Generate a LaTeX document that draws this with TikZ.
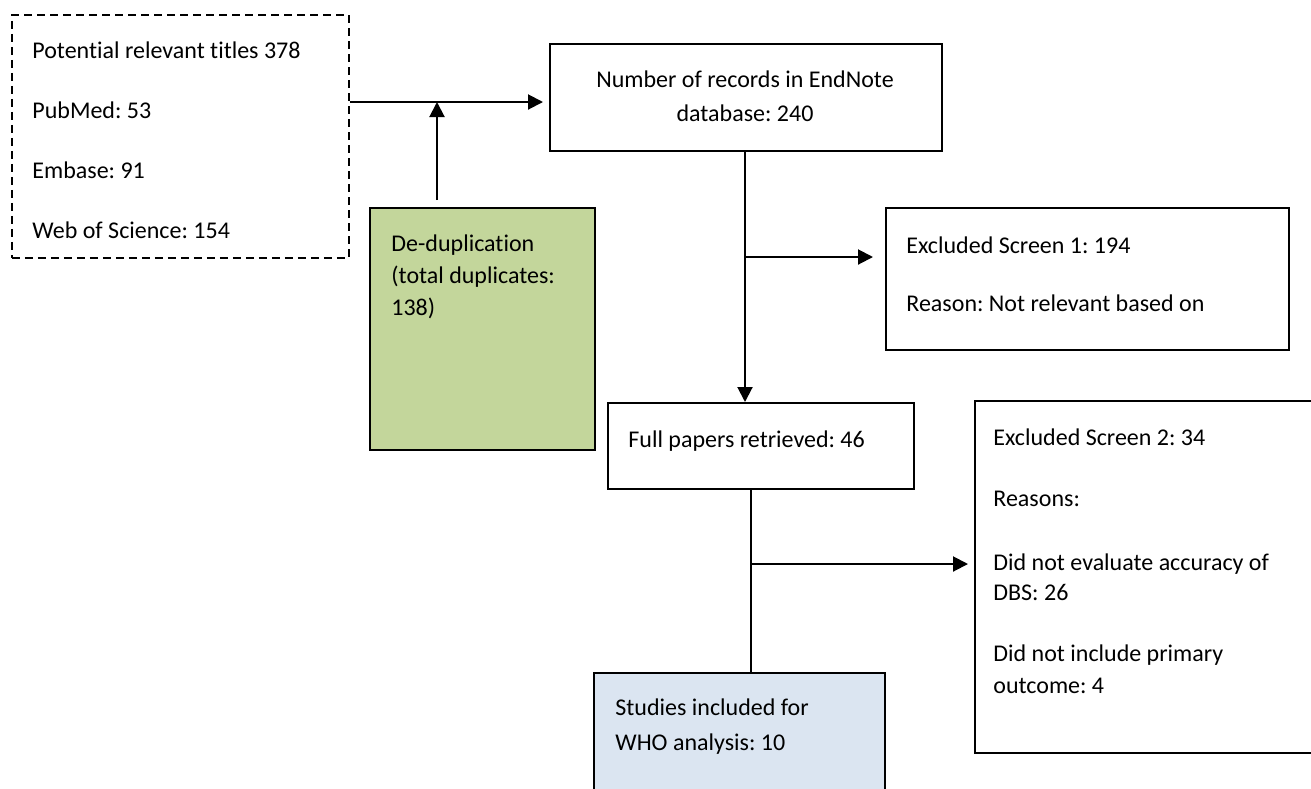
\documentclass[tikz,border=0pt]{standalone}
\usepackage{fontspec}
\setmainfont{Carlito}[Ligatures=NoCommon]
\usetikzlibrary{arrows.meta}
\frenchspacing

\newlength{\px}
\setlength{\px}{0.5pt}
\definecolor{dedupgreen}{HTML}{C3D69B}
\definecolor{keptblue}{HTML}{DBE5F1}

\tikzset{
  box/.style={draw, line width=1pt, rectangle, anchor=north west, inner sep=0pt},
  txt/.style={anchor=north west, align=left, inner sep=0pt,
              font=\fontsize{12}{15}\selectfont, execute at begin node=\strut},
  link/.style={line width=1pt},
  arr/.style={link, -{Triangle[length=7.5pt,width=7.5pt]}}
}

\begin{document}
\begin{tikzpicture}[x=0.5pt,y=-0.5pt]
\useasboundingbox (0,0) rectangle (1311,788);
\clip (0,0) rectangle (1311,788);

% boxes
\node[box, dashed, dash pattern=on 4pt off 2.5pt, line width=0.75pt,
      minimum width=337*\px, minimum height=243*\px] (src) at (11,14) {};
\node[box, minimum width=392*\px, minimum height=107*\px] (endnote) at (549,43) {};
\node[box, fill=dedupgreen, minimum width=225*\px, minimum height=242*\px] (dedup) at (369,207) {};
\node[box, minimum width=403*\px, minimum height=142*\px] (excl1) at (885,207) {};
\node[box, minimum width=306*\px, minimum height=86*\px] (fullpap) at (607,402) {};
\node[box, minimum width=356*\px, minimum height=352*\px] (excl2) at (974,400) {};
\node[box, fill=keptblue, minimum width=291*\px, minimum height=128*\px] (studies) at (593,672) {};

% texts (top of first line strut)
\node[txt] (srcTxt) at (32,41) {Potential relevant titles 378\\[15pt]PubMed: 53\\[15pt]Embase: 91\\[15pt]Web of Science: 154};
\node[txt, anchor=north, align=center] (endnoteTxt) at (745,70) {Number of records in EndNote\\[2pt]database: 240};
\node[txt] (dedupTxt) at (391,234) {De-duplication\\[1.2pt](total duplicates:\\[1.2pt]138)};
\node[txt] (excl1Txt) at (906,236) {Excluded Screen 1: 194\\[14pt]Reason: Not relevant based on};
\node[txt] (fullpapTxt) at (628,426) {Full papers retrieved: 46};
\node[txt] (excl2Txt) at (993,428) {Excluded Screen 2: 34\\[15.5pt]Reasons:\\[17pt]Did not evaluate accuracy of\\DBS: 26\\[15.5pt]Did not include primary\\[1pt]outcome: 4};
\node[txt] (studiesTxt) at (615,698) {Studies included for\\[2.5pt]WHO analysis: 10};

% junctions
\coordinate (joinA) at (437,102);
\coordinate (split1) at (745,257);
\coordinate (split2) at (751,564);

% connectors
\draw[arr, shorten >=3pt] (joinA -| src.east) -- (joinA -| endnote.west);
\draw[arr] ([yshift=3.5pt]joinA |- dedup.north) -- (joinA);
\draw[arr] (endnote.south -| split1) -- (split1 |- fullpap.north);
\draw[arr, shorten >=6pt] (split1) -- (split1 -| excl1.west);
\draw[link] (split2 |- fullpap.south) -- (split2 |- studies.north);
\draw[arr, shorten >=3pt] (split2) -- (split2 -| excl2.west);
\end{tikzpicture}
\end{document}
